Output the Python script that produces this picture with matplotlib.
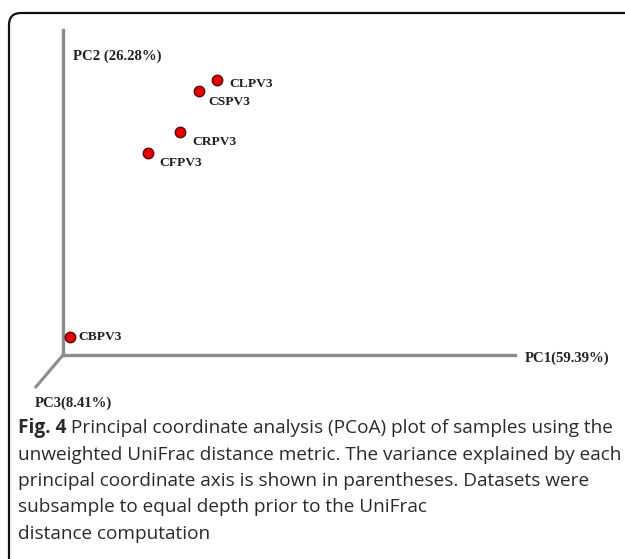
import matplotlib.pyplot as plt
from matplotlib.patches import FancyBboxPatch

# PCoA scores (unweighted UniFrac), scaled to the plotted axis ranges
samples = ['CLPV3', 'CSPV3', 'CRPV3', 'CFPV3', 'CBPV3']
pc1 = [0.341, 0.301, 0.259, 0.188, 0.015]
pc2 = [0.846, 0.812, 0.686, 0.622, 0.055]
# label offsets in points (dx, dy)
label_offsets = [(9, -3), (7, -8), (9, -7), (8, -7), (6, 0)]

axis_labels = ['PC1(59.39%)', 'PC2 (26.28%)', 'PC3(8.41%)']

caption_bold = 'Fig. 4'
caption_lines = [
    ' Principal coordinate analysis (PCoA) plot of samples using the',
    'unweighted UniFrac distance metric. The variance explained by each',
    'principal coordinate axis is shown in parentheses. Datasets were',
    'subsample to equal depth prior to the UniFrac',
    'distance computation',
]

W, H = 625, 559
fig = plt.figure(figsize=(W / 100, H / 100), dpi=100)

# rounded frame, open at right and bottom
frame = FancyBboxPatch((0.09, -0.5), 7.0, 5.46 + 0.5,
                       boxstyle='round,pad=0,rounding_size=0.12',
                       transform=fig.dpi_scale_trans, fill=False,
                       edgecolor='#111111', linewidth=1.6, clip_on=False)
fig.patches.append(frame)

# plot axes: origin at pixel (63, 355)
ax = fig.add_axes([63 / W, 1 - 355 / H, 452 / W, 325 / H])
ax.set_xlim(0, 1)
ax.set_ylim(0, 1)
for s in ['top', 'right']:
    ax.spines[s].set_visible(False)
for s in ['left', 'bottom']:
    ax.spines[s].set_color('#8c8c8c')
    ax.spines[s].set_linewidth(2.4)
ax.set_xticks([])
ax.set_yticks([])
ax.patch.set_alpha(0)

# PC3 axis drawn obliquely
ax.plot([0, -0.062], [0, -0.1015], color='#8c8c8c', lw=2.2,
        clip_on=False, solid_capstyle='butt')

ax.scatter(pc1, pc2, s=58, c='#e00000', edgecolors='#5a0000',
           linewidths=0.9, zorder=3, clip_on=False)

serif = {'family': 'Liberation Serif', 'weight': 'bold', 'color': '#222222'}
for name, x, y, (dx, dy) in zip(samples, pc1, pc2, label_offsets):
    ax.annotate(name, (x, y), xytext=(dx, dy), textcoords='offset points',
                ha='left', va='center', size=9.7, **serif)

fig.text(525 / W, 1 - 358 / H, axis_labels[0], ha='left', va='center',
         size=10.6, **serif)
fig.text(73 / W, 1 - 56 / H, axis_labels[1], ha='left', va='center',
         size=10.6, **serif)
fig.text(35 / W, 1 - 403 / H, axis_labels[2], ha='left', va='center',
         size=10.6, **serif)

# caption
cap = {'family': 'Open Sans', 'size': 13.65, 'color': '#2a2a2a'}
y0, dy = 428, 26.5
t = fig.text(18 / W, 1 - y0 / H, caption_bold, ha='left', va='center',
             fontweight='bold', **cap)
fig.canvas.draw()
r = fig.canvas.get_renderer()
bb = t.get_window_extent(r)
fig.text(bb.x1 / W, 1 - y0 / H, caption_lines[0], ha='left', va='center', **cap)
for i, line in enumerate(caption_lines[1:], start=1):
    fig.text(18 / W, 1 - (y0 + i * dy) / H, line, ha='left', va='center', **cap)

fig.savefig('out.png', dpi=100)
